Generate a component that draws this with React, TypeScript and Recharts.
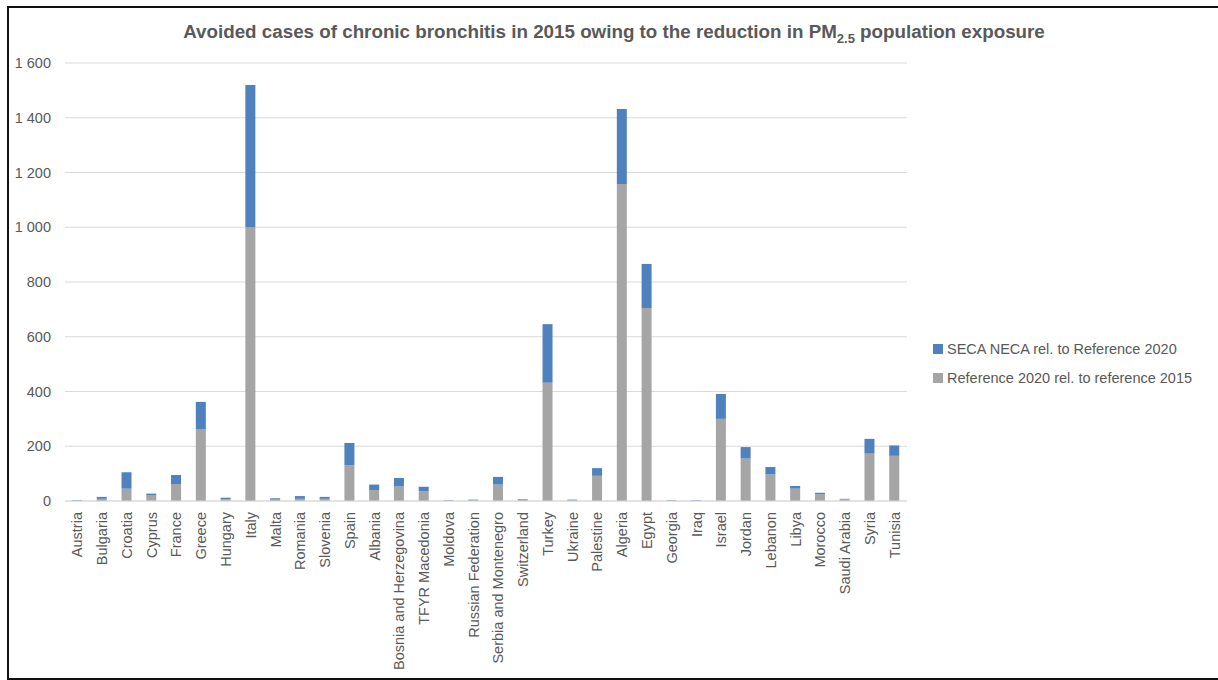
import * as React from "react";
import { BarChart, Bar, XAxis, YAxis, CartesianGrid } from "recharts";

const countries = [
  "Austria", "Bulgaria", "Croatia", "Cyprus", "France", "Greece", "Hungary", "Italy",
  "Malta", "Romania", "Slovenia", "Spain", "Albania", "Bosnia and Herzegovina",
  "TFYR Macedonia", "Moldova", "Russian Federation", "Serbia and Montenegro",
  "Switzerland", "Turkey", "Ukraine", "Palestine", "Algeria", "Egypt", "Georgia",
  "Iraq", "Israel", "Jordan", "Lebanon", "Libya", "Morocco", "Saudi Arabia", "Syria",
  "Tunisia",
];

// Reference 2020 rel. to reference 2015 (grey, bottom of stack)
const reference2020 = [
  1, 8, 45, 20, 62, 263, 6, 1000, 5, 8, 8, 131, 40, 53, 36, 1, 2, 60, 5, 432, 2, 92,
  1158, 705, 1, 1, 300, 155, 97, 45, 25, 6, 173, 165,
];

// SECA NECA rel. to Reference 2020 (blue, top of stack)
const secaNeca = [
  2, 7, 60, 7, 33, 99, 6, 520, 5, 10, 7, 81, 20, 31, 16, 2, 3, 28, 2, 214, 3, 28,
  274, 161, 2, 2, 91, 42, 27, 10, 5, 2, 54, 38,
];

const yTicks = [0, 200, 400, 600, 800, 1000, 1200, 1400, 1600];

const BLUE = "#4f81bd";
const GREY = "#a5a5a5";
const TEXT = "#595959";
const FONT = "'Liberation Sans', Arial, sans-serif";

const data = countries.map((name, i) => ({
  name,
  reference: reference2020[i],
  seca: secaNeca[i],
}));

const fmt = (v: number) => String(v).replace(/\B(?=(\d{3})+(?!\d))/g, " ");

function CountryTick(props: any) {
  const { x, y, payload } = props;
  return (
    <g transform={`translate(${x},${y + 3})`}>
      <text
        transform="rotate(-90)"
        textAnchor="end"
        dominantBaseline="central"
        fontSize={14.5}
        fontFamily={FONT}
        fill={TEXT}
      >
        {payload.value}
      </text>
    </g>
  );
}

export default function App() {
  return (
    <div
      style={{
        position: "absolute",
        left: 7,
        top: 6,
        width: 1220,
        height: 670,
        borderTop: "2px solid #111",
        borderLeft: "2px solid #111",
        borderBottom: "2px solid #111",
        background: "#fff",
        fontFamily: FONT,
        overflow: "hidden",
      }}
    >
      <div
        style={{
          position: "absolute",
          left: 0,
          width: 1210,
          top: 13,
          textAlign: "center",
          fontSize: 18.8,
          fontWeight: "bold",
          color: TEXT,
        }}
      >
        Avoided cases of chronic bronchitis in 2015 owing to the reduction in PM
        <sub style={{ fontSize: 13 }}>2.5</sub> population exposure
      </div>

      <BarChart
        width={1209}
        height={670}
        data={data}
        margin={{ top: 55, right: 311, bottom: 0, left: 6 }}
      >
        <CartesianGrid vertical={false} stroke="#d9d9d9" />
        <XAxis
          dataKey="name"
          interval={0}
          height={177}
          tickLine={false}
          axisLine={{ stroke: "#d9d9d9" }}
          tick={<CountryTick />}
        />
        <YAxis
          width={50}
          domain={[0, 1600]}
          ticks={yTicks}
          tickFormatter={fmt}
          axisLine={false}
          tickLine={false}
          tickSize={0}
          tickMargin={14}
          tick={{ fontSize: 14.5, fill: TEXT, fontFamily: FONT }}
        />
        <Bar dataKey="reference" stackId="a" fill={GREY} barSize={10} isAnimationActive={false} />
        <Bar dataKey="seca" stackId="a" fill={BLUE} barSize={10} isAnimationActive={false} />
      </BarChart>

      <div style={{ position: "absolute", left: 924, top: 326, fontSize: 14.5, color: TEXT }}>
        {[
          { label: "SECA NECA rel. to Reference 2020", color: BLUE },
          { label: "Reference 2020 rel. to reference 2015", color: GREY },
        ].map((item) => (
          <div key={item.label} style={{ display: "flex", alignItems: "center", height: 29 }}>
            <span
              style={{ width: 10, height: 10, background: item.color, marginRight: 4, display: "inline-block" }}
            />
            <span>{item.label}</span>
          </div>
        ))}
      </div>
    </div>
  );
}
